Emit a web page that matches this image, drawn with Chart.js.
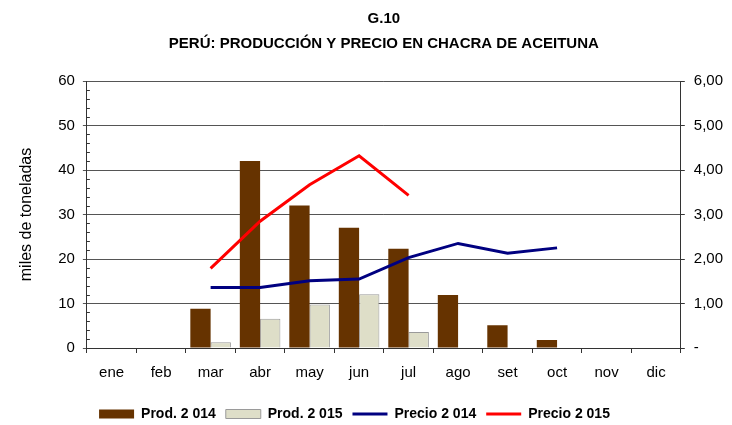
<!DOCTYPE html>
<html>
<head>
<meta charset="utf-8">
<script src="https://cdn.jsdelivr.net/npm/chart.js@4/dist/chart.umd.min.js"></script>
<style>
  body { margin: 0; background: #fff; }
  #wrap { width: 732px; height: 425px; }
</style>
</head>
<body>
<div id="wrap"><canvas id="firstChart"></canvas></div>
<script>
var months = ["ene", "feb", "mar", "abr", "may", "jun", "jul", "ago", "set", "oct", "nov", "dic"];
var prod2014 = [null, null, 8.8, 42, 32, 27, 22.3, 11.9, 5.1, 1.8, null, null];
var prod2015 = [null, null, 1.3, 6.6, 9.8, 12.1, 3.6, null, null, null, null, null];
var precio2014 = [null, null, 1.36, 1.36, 1.51, 1.55, 2.03, 2.35, 2.13, 2.25, null, null];
var precio2015 = [null, null, 1.79, 2.85, 3.67, 4.32, 3.43, null, null, null, null, null];

var FONT = "'Liberation Sans', Arial, sans-serif";

// small inward ticks on the left axis, every 2 units
var minorTicks = {
  id: 'minorTicks',
  afterDraw: function(chart) {
    var scale = chart.scales.y;
    var ctx = chart.ctx;
    ctx.save();
    ctx.strokeStyle = '#333';
    ctx.lineWidth = 1;
    for (var v = 0; v <= 60; v += 2) {
      if (v % 10 === 0) continue;
      var py = Math.round(scale.getPixelForValue(v)) + 0.5;
      ctx.beginPath();
      ctx.moveTo(scale.right, py);
      ctx.lineTo(scale.right + 3, py);
      ctx.stroke();
    }
    ctx.restore();
  }
};

// the legend sits a bit left of centre in the original
var legendShift = {
  id: 'legendShift',
  afterLayout: function(chart) {
    chart.legend.left -= 20;
    chart.legend.right -= 20;
  }
};

function drawChart() {

  var ctx = document.getElementById('firstChart').getContext('2d');
  var chart = new Chart(ctx, {

    type: 'bar',

    data: {
        labels: months,
        datasets: [{
            label: 'Prod. 2 014',
            backgroundColor: '#663300',
            borderColor: '#663300',
            borderWidth: 0,
            data: prod2014,
            yAxisID: 'y',
            order: 3
        }, {
            label: 'Prod. 2 015',
            backgroundColor: '#dedec8',
            borderColor: '#9a9a9a',
            borderWidth: 1,
            data: prod2015,
            yAxisID: 'y',
            order: 4
        }, {
            type: 'line',
            label: 'Precio 2 014',
            borderColor: '#000080',
            backgroundColor: '#000080',
            borderWidth: 3,
            pointRadius: 0,
            data: precio2014,
            yAxisID: 'y2',
            order: 1
        }, {
            type: 'line',
            label: 'Precio 2 015',
            borderColor: '#ff0000',
            backgroundColor: '#ff0000',
            borderWidth: 3,
            pointRadius: 0,
            data: precio2015,
            yAxisID: 'y2',
            order: 0
        }]
    },

    options: {
      responsive: true,
      maintainAspectRatio: false,
      animation: false,
      layout: { padding: { left: 17, right: 0, top: 0, bottom: -6 } },
      datasets: {
        bar: { barPercentage: 1, categoryPercentage: 0.82 }
      },
      plugins: {
        title: {
          display: true,
          fullSize: false,
          text: ['G.10', 'PERÚ: PRODUCCIÓN Y PRECIO EN CHACRA DE ACEITUNA'],
          color: '#000',
          font: { family: FONT, size: 15, weight: 'bold', lineHeight: 1.667 },
          padding: { top: 6, bottom: 25 }
        },
        legend: {
          position: 'bottom',
          labels: {
            color: '#000',
            font: { family: FONT, size: 14, weight: 'bold' },
            boxWidth: 35,
            boxHeight: 9,
            usePointStyle: true,
            pointStyleWidth: 35,
            padding: 10,
            sort: function(a, b) { return a.datasetIndex - b.datasetIndex; },
            generateLabels: function(chart) {
              var items = Chart.defaults.plugins.legend.labels.generateLabels(chart);
              items.forEach(function(item) {
                var ds = chart.data.datasets[item.datasetIndex];
                item.pointStyle = ds.type === 'line' ? 'line' : 'rect';
                if (ds.type === 'line') {
                  item.lineWidth = 3;
                }
              });
              return items;
            }
          }
        },
        tooltip: { enabled: false }
      },
      scales: {
        x: {
          grid: { display: true, drawOnChartArea: false, offset: true, color: '#333', tickLength: 5 },
          border: { color: '#333' },
          ticks: { color: '#000', font: { family: FONT, size: 15 }, padding: 11 },
          afterFit: function(scale) { scale.height += 4; }
        },
        y: {
          position: 'left',
          min: 0,
          max: 60,
          ticks: { stepSize: 10, color: '#000', font: { family: FONT, size: 15 }, padding: 8 },
          grid: { color: '#555', tickLength: 4 },
          border: { color: '#333' },
          title: {
            display: true,
            text: 'miles de toneladas',
            color: '#000',
            font: { family: FONT, size: 16 },
            padding: { top: 0, bottom: 14 }
          }
        },
        y2: {
          position: 'right',
          min: 0,
          max: 6,
          ticks: {
            stepSize: 1,
            color: '#000',
            font: { family: FONT, size: 15 },
            padding: 9,
            callback: function(v) {
              return v === 0 ? '-' : v.toFixed(2).replace('.', ',');
            }
          },
          grid: { drawOnChartArea: false, color: '#333', tickLength: 4 },
          border: { color: '#333' }
        }
      }
    },

    plugins: [minorTicks, legendShift]
  });
}

drawChart();
</script>
</body>
</html>
